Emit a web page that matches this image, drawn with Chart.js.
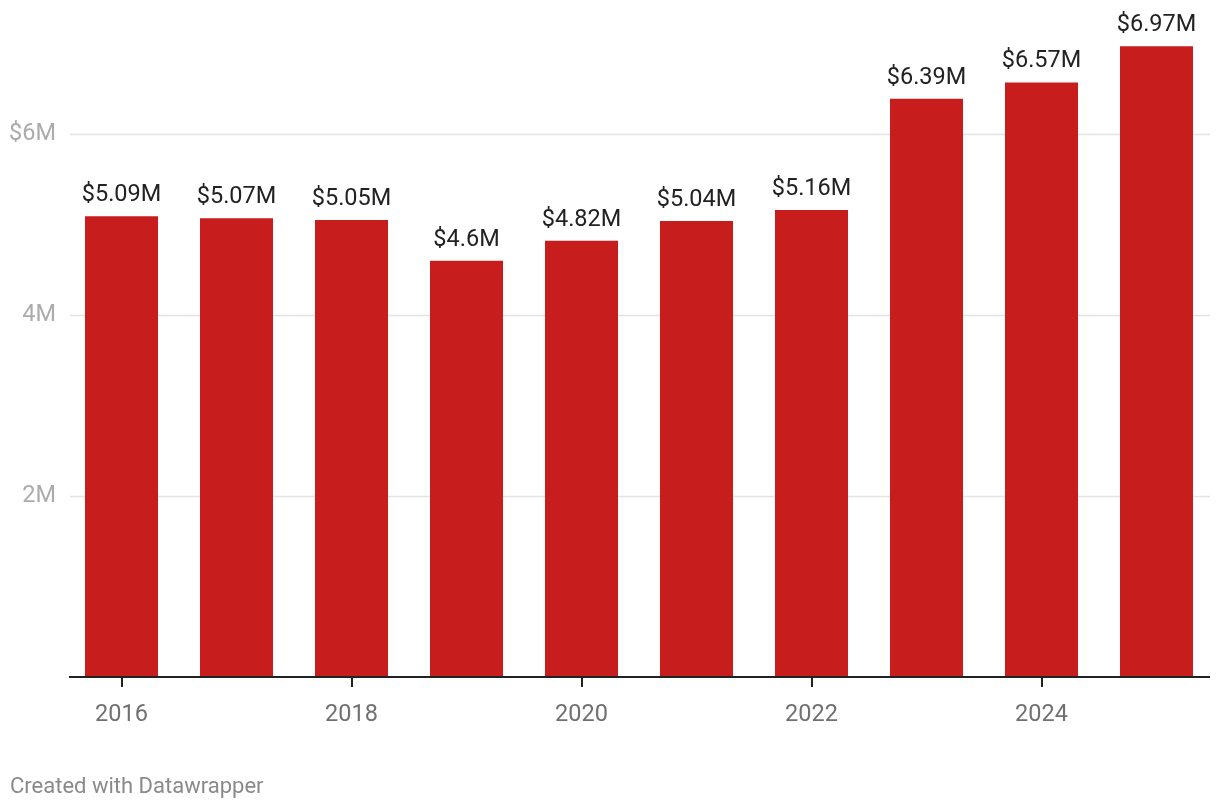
<!DOCTYPE html>
<html>
<head>
<meta charset="utf-8">
<script src="https://cdn.jsdelivr.net/npm/chart.js@4"></script>
<style>
  body { margin: 0; background: #fff; }
  #wrap { position: relative; width: 1220px; height: 810px; }
  #footer { position: absolute; left: 10px; top: 773px; font: 22px Roboto, sans-serif; color: #8a8a8a; }
</style>
</head>
<body>
<div id="wrap">
  <canvas id="myChart" width="1220" height="810"></canvas>
  <div id="footer">Created with Datawrapper</div>
</div>
<script>
const years = ["2016", "2017", "2018", "2019", "2020", "2021", "2022", "2023", "2024", "2025"];
const values = [5.09, 5.07, 5.05, 4.6, 4.82, 5.04, 5.16, 6.39, 6.57, 6.97];
const yTicks = [0, 2, 4, 6];

// grid lines + baseline + value labels
const extras = {
  id: "extras",
  beforeDatasetsDraw(chart) {
    const { ctx, chartArea, scales } = chart;
    ctx.save();
    ctx.strokeStyle = "#e3e3e3";
    ctx.lineWidth = 1.5;
    yTicks.slice(1).forEach((v) => {
      const y = Math.round(scales.y.getPixelForValue(v)) + 0.5;
      ctx.beginPath();
      ctx.moveTo(chartArea.left + 6, y);
      ctx.lineTo(chartArea.right - 4, y);
      ctx.stroke();
    });
    ctx.restore();
  },
  afterDatasetsDraw(chart) {
    const { ctx, chartArea, scales } = chart;
    ctx.save();
    const y0 = scales.y.getPixelForValue(0);
    ctx.strokeStyle = "#222";
    ctx.lineWidth = 2;
    ctx.beginPath();
    ctx.moveTo(chartArea.left + 5, y0);
    ctx.lineTo(chartArea.right - 4, y0);
    ctx.stroke();

    ctx.fillStyle = "#222";
    ctx.font = "23.5px Roboto";
    ctx.textAlign = "center";
    ctx.textBaseline = "alphabetic";
    chart.getDatasetMeta(0).data.forEach((bar, i) => {
      ctx.fillText("$" + values[i] + "M", bar.x, bar.y - 15);
    });
    ctx.restore();
  },
};

const ctx = document.getElementById("myChart").getContext("2d");
const myChart = new Chart(ctx, {
  type: "bar",
  data: {
    labels: years,
    datasets: [
      {
        data: values,
        backgroundColor: "#c71e1d",
        categoryPercentage: 1,
        barPercentage: 0.635,
      },
    ],
  },
  options: {
    responsive: false,
    animation: false,
    layout: { padding: { top: 43.5, left: 0, right: 6, bottom: 0 } },
    plugins: {
      legend: { display: false },
      tooltip: { enabled: false },
    },
    scales: {
      x: {
        afterFit: (scale) => { scale.height = 133; },
        border: { display: false },
        grid: {
          offset: false,
          drawOnChartArea: false,
          drawTicks: true,
          tickLength: 10,
          lineWidth: 2,
          color: (c) => (c.index % 2 === 0 ? "#222" : "rgba(0,0,0,0)"),
        },
        ticks: {
          autoSkip: false,
          maxRotation: 0,
          padding: 14,
          color: "#707070",
          font: { family: "Roboto", size: 23.5 },
          callback: (v, i) => (i % 2 === 0 ? years[i] : ""),
        },
      },
      y: {
        min: 0,
        max: 7,
        afterFit: (scale) => { scale.width = 64; },
        afterBuildTicks: (scale) => { scale.ticks = yTicks.map((v) => ({ value: v })); },
        border: { display: false },
        grid: { display: false },
        ticks: {
          padding: 0,
          color: "#ababab",
          font: { family: "Roboto", size: 23.5 },
          callback: (v) => (v === 0 ? "" : v === 6 ? "$" + v + "M" : v + "M"),
        },
      },
    },
  },
  plugins: [extras],
});
</script>
</body>
</html>
